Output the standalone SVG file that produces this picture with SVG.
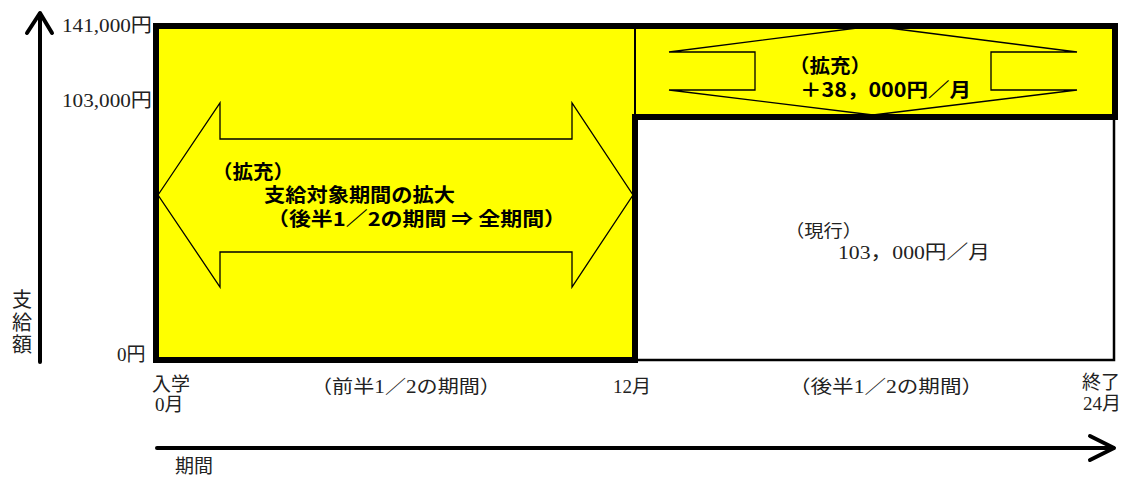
<svg xmlns="http://www.w3.org/2000/svg" width="1133" height="477" viewBox="0 0 1133 477">
<style>
.ser{font-family:'Liberation Serif','Noto Sans CJK JP',serif;fill:#222;}
.got{font-family:'Noto Sans CJK JP',sans-serif;font-weight:bold;fill:#000;}
.arr{fill:#ffff00;stroke:#000;stroke-width:1.3;stroke-linejoin:miter;}
.axis{fill:none;stroke:#000;stroke-width:4;stroke-linecap:round;stroke-linejoin:round;}
</style>
<rect x="0" y="0" width="1133" height="477" fill="#fff"/>
<g id="expanded-area">
<path d="M156,26 H1115 V117 H635 V360 H156 Z" fill="#ffff00"/>
</g>
<g id="current-area">
<rect x="635" y="117" width="479" height="243" fill="#fff" stroke="#000" stroke-width="2.5"/>
</g>
<g id="period-arrow">
<polygon class="arr" points="158,195 220,103 220,139 572,139 572,103 633,195 572,287 572,252 220,252 220,287"/>
</g>
<g id="amount-arrow">
<polygon class="arr" points="873,26 1077,52 991,52 991,90 1077,90 873,115 669,90 755,90 755,52 669,52"/>
</g>
<g id="borders">
<line x1="635" y1="26" x2="635" y2="117" stroke="#000" stroke-width="2"/>
<path d="M156,26 H1115 V117 H635 V360 H156 Z" fill="none" stroke="#000" stroke-width="6"/>
</g>
<g id="connectors">
<line class="axis" x1="40" y1="362" x2="40" y2="14"/>
<polyline class="axis" points="27,33 40,13 52,33"/>
<line class="axis" x1="157" y1="448" x2="1113" y2="448"/>
<polyline class="axis" points="1090,436 1114,448 1090,460"/>
</g>
<g id="y-labels">
<text class="ser" x="62" y="32" font-size="19" textLength="90" lengthAdjust="spacingAndGlyphs">141,000円</text>
<text class="ser" x="62" y="107" font-size="19" textLength="90" lengthAdjust="spacingAndGlyphs">103,000円</text>
<text class="ser" x="117" y="361" font-size="19">0円</text>
<text class="ser" x="12" y="307" font-size="20">支</text>
<text class="ser" x="12" y="330" font-size="20">給</text>
<text class="ser" x="12" y="352" font-size="20">額</text>
</g>
<g id="x-labels">
<text class="ser" x="152" y="391" font-size="19">入学</text>
<text class="ser" x="155" y="411" font-size="19">0月</text>
<text class="ser" x="311" y="393" font-size="18.5" textLength="190" lengthAdjust="spacingAndGlyphs">（前半1／2の期間）</text>
<text class="ser" x="613" y="393" font-size="19">12月</text>
<text class="ser" x="789" y="393" font-size="18.5" textLength="194" lengthAdjust="spacingAndGlyphs">（後半1／2の期間）</text>
<text class="ser" x="1082" y="389" font-size="19">終了</text>
<text class="ser" x="1083" y="410" font-size="19">24月</text>
<text class="ser" x="175" y="473" font-size="19">期間</text>
</g>
<g id="expanded-label">
<text class="got" x="212" y="179" font-size="19" textLength="82" lengthAdjust="spacingAndGlyphs">（拡充）</text>
<text class="got" x="264" y="202" font-size="19" textLength="191" lengthAdjust="spacingAndGlyphs">支給対象期間の拡大</text>
<text class="got" x="267" y="226" font-size="19" textLength="299" lengthAdjust="spacingAndGlyphs">（後半1／2の期間 ⇒ 全期間）</text>
</g>
<g id="increase-label">
<text class="got" x="789" y="73" font-size="19" textLength="82" lengthAdjust="spacingAndGlyphs">（拡充）</text>
<text class="got" x="800" y="97" font-size="19.5" textLength="171" lengthAdjust="spacingAndGlyphs">＋38，000円／月</text>
</g>
<g id="current-label">
<text class="ser" x="785" y="237" font-size="17.5" textLength="77" lengthAdjust="spacingAndGlyphs">（現行）</text>
<text class="ser" x="838" y="259" font-size="19" textLength="152" lengthAdjust="spacingAndGlyphs">103，000円／月</text>
</g>
</svg>
